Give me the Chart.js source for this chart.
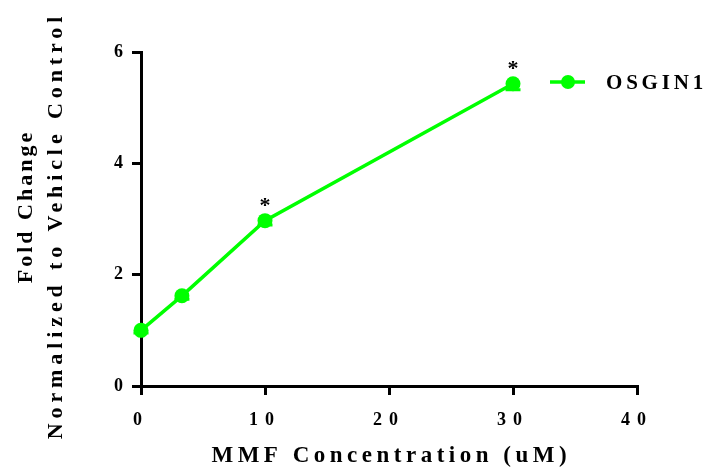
<!DOCTYPE html>
<html>
<head>
<meta charset="utf-8">
<script src="https://cdn.jsdelivr.net/npm/chart.js@4"></script>
<style>
  html, body { margin: 0; padding: 0; background: #ffffff; }
  canvas { display: block; }
</style>
</head>
<body>
<canvas id="chart" width="707" height="469"></canvas>
<script>
// MMF dose response of OSGIN1 expression
const concentrations = [0, 3.3, 10, 30];          // uM
const foldChange = [1.0, 1.62, 2.97, 5.43];       // mean fold change
const errorBelow = [0.05, 0.06, 0.08, 0.11];      // lower error bar length
const significant = [false, false, true, true];   // marked with *
const xTickValues = [0, 10, 20, 30, 40];
const yTickValues = [0, 2, 4, 6];
const seriesName = 'OSGIN1';
const xTitle = 'MMF Concentration (uM)';
const yTitleLines = ['Fold Change', 'Normalized to Vehicle Control'];

const GREEN = '#00ff00';
const SERIF = '"Liberation Serif", "Times New Roman", serif';
const TICK_SPACING = 7;

// draw text with letter spacing, centred on its glyphs (trailing spacing removed)
function spacedText(ctx, text, x, y, spacing, align) {
  ctx.letterSpacing = spacing + 'px';
  const w = ctx.measureText(text).width - spacing;
  let start = x;
  if (align === 'center') start = x - w / 2;
  else if (align === 'right') start = x - w;
  ctx.textAlign = 'left';
  ctx.fillText(text, start, y);
}

// wide letter spacing for the tick labels
const spacingPlugin = {
  id: 'tickSpacing',
  beforeLayout(chart) { chart.ctx.letterSpacing = TICK_SPACING + 'px'; },
  beforeDraw(chart) { chart.ctx.letterSpacing = TICK_SPACING + 'px'; }
};

const errorBarPlugin = {
  id: 'errorBars',
  beforeDatasetsDraw(chart) {
    const ctx = chart.ctx;
    const xs = chart.scales.x, ys = chart.scales.y;
    ctx.save();
    ctx.strokeStyle = GREEN;
    ctx.lineWidth = 3;
    concentrations.forEach((c, i) => {
      const x = xs.getPixelForValue(c);
      const y0 = ys.getPixelForValue(foldChange[i]);
      const y1 = ys.getPixelForValue(foldChange[i] - errorBelow[i]);
      ctx.beginPath();
      ctx.moveTo(x, y0); ctx.lineTo(x, y1);
      ctx.moveTo(x - 7.5, y1); ctx.lineTo(x + 7.5, y1);
      ctx.stroke();
    });
    ctx.restore();
  }
};

const decorPlugin = {
  id: 'decor',
  afterDraw(chart) {
    const ctx = chart.ctx;
    const area = chart.chartArea;
    const xs = chart.scales.x, ys = chart.scales.y;
    ctx.save();
    ctx.fillStyle = '#000000';
    ctx.textBaseline = 'alphabetic';

    // significance asterisks
    ctx.font = 'bold 22px ' + SERIF;
    ctx.letterSpacing = '0px';
    const m = ctx.measureText('*');
    const starMid = (m.actualBoundingBoxAscent - m.actualBoundingBoxDescent) / 2;
    concentrations.forEach((c, i) => {
      if (!significant[i]) return;
      const x = xs.getPixelForValue(c);
      const y = ys.getPixelForValue(foldChange[i]) - 18.5;
      ctx.textAlign = 'center';
      ctx.fillText('*', x, y + starMid);
    });

    // x axis title
    ctx.font = 'bold 23px ' + SERIF;
    ctx.textBaseline = 'middle';
    spacedText(ctx, xTitle, (area.left + area.right) / 2, chart.height - 13, 4.5, 'center');

    // y axis title, two rotated lines
    const midY = (area.top + area.bottom) / 2;
    ctx.font = 'bold 22px ' + SERIF;
    ctx.save();
    ctx.translate(26, midY - 11);
    ctx.rotate(-Math.PI / 2);
    spacedText(ctx, yTitleLines[0], 0, 0, 3, 'center');
    ctx.restore();
    ctx.save();
    ctx.translate(56, midY + 9);
    ctx.rotate(-Math.PI / 2);
    spacedText(ctx, yTitleLines[1], 0, 0, 4.9, 'center');
    ctx.restore();

    // legend
    const lx = area.right - 87, ly = 82;
    ctx.strokeStyle = GREEN;
    ctx.lineWidth = 3.5;
    ctx.beginPath();
    ctx.moveTo(lx, ly); ctx.lineTo(lx + 35, ly);
    ctx.stroke();
    ctx.fillStyle = GREEN;
    ctx.beginPath();
    ctx.arc(lx + 18, ly, 7, 0, Math.PI * 2);
    ctx.fill();
    ctx.fillStyle = '#000000';
    ctx.font = 'bold 21px ' + SERIF;
    spacedText(ctx, seriesName, lx + 56, ly + 1.5, 3.8, 'left');
    ctx.restore();
  }
};

new Chart(document.getElementById('chart'), {
  type: 'line',
  data: {
    datasets: [{
      label: seriesName,
      data: concentrations.map((c, i) => ({ x: c, y: foldChange[i] })),
      borderColor: GREEN,
      backgroundColor: GREEN,
      borderWidth: 3.5,
      pointRadius: 7.5,
      pointBorderWidth: 0,
      pointBackgroundColor: GREEN,
      tension: 0,
      clip: false
    }]
  },
  options: {
    responsive: false,
    animation: false,
    events: [],
    layout: { padding: { left: 0, top: 52, right: 70, bottom: 0 } },
    plugins: {
      legend: { display: false },
      tooltip: { enabled: false },
      title: { display: false }
    },
    scales: {
      x: {
        type: 'linear',
        min: 0, max: 40,
        afterBuildTicks: s => { s.ticks = xTickValues.map(v => ({ value: v })); },
        afterFit: s => { s.height = 83; },
        border: { display: true, color: '#000000', width: 3 },
        grid: { display: true, drawOnChartArea: false, drawTicks: true, tickLength: 9, color: '#000000', lineWidth: 3 },
        ticks: {
          color: '#000000', font: { family: SERIF, size: 18, weight: 'bold' },
          padding: 15, maxRotation: 0
        }
      },
      y: {
        type: 'linear',
        min: 0, max: 6,
        afterBuildTicks: s => { s.ticks = yTickValues.map(v => ({ value: v })); },
        afterFit: s => { s.width = 141; },
        border: { display: true, color: '#000000', width: 3 },
        grid: { display: true, drawOnChartArea: false, drawTicks: true, tickLength: 9, color: '#000000', lineWidth: 3 },
        ticks: { color: '#000000', font: { family: SERIF, size: 18, weight: 'bold' }, padding: 2 }
      }
    }
  },
  plugins: [spacingPlugin, errorBarPlugin, decorPlugin]
});
</script>
</body>
</html>
